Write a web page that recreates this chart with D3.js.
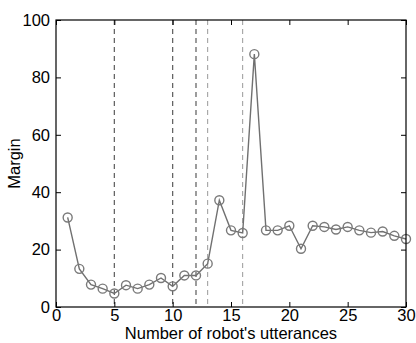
<!DOCTYPE html>
<html>
<head>
<meta charset="utf-8">
<script src="https://cdn.jsdelivr.net/npm/d3@7"></script>
<style>
  body { margin: 0; background: #fff; }
  text { font-family: "Liberation Sans", Arial, sans-serif; }
</style>
</head>
<body>
<div id="chart"></div>
<script>
var utterances = d3.range(1, 31);
var margins = [31.2, 13.3, 7.8, 6.4, 4.7, 7.6, 6.4, 7.8, 10.1, 7.2,
               11.0, 11.0, 15.1, 37.2, 26.7, 25.8, 88.1, 26.7, 26.7, 28.3,
               20.3, 28.3, 27.9, 27.0, 27.9, 26.7, 25.9, 26.3, 24.8, 23.7];
var darkLines = [5, 10, 12];
var lightLines = [13, 16];
var xTicks = [0, 5, 10, 15, 20, 25, 30];
var yTicks = [0, 20, 40, 60, 80, 100];

var width = 416, height = 343;
var pLeft = 56, pRight = 406, pTop = 20, pBottom = 307;

var svg = d3.select('#chart').append('svg')
  .attr('width', width)
  .attr('height', height);

var x = d3.scaleLinear().domain([0, 30]).range([pLeft, pRight]);
var y = d3.scaleLinear().domain([0, 100]).range([pBottom, pTop]);

// vertical dashed lines
svg.selectAll('.vdark')
  .data(darkLines)
  .enter().append('line')
  .attr('x1', d => x(d)).attr('x2', d => x(d))
  .attr('y1', pTop).attr('y2', pBottom)
  .attr('stroke', '#5a5a5a')
  .attr('stroke-width', 1.2)
  .attr('stroke-dasharray', '5,4');

svg.selectAll('.vlight')
  .data(lightLines)
  .enter().append('line')
  .attr('x1', d => x(d)).attr('x2', d => x(d))
  .attr('y1', pTop).attr('y2', pBottom)
  .attr('stroke', '#999')
  .attr('stroke-width', 1)
  .attr('stroke-dasharray', '5,4');

// series line
var line = d3.line()
  .x((d, i) => x(utterances[i]))
  .y(d => y(d));

svg.append('path')
  .datum(margins)
  .attr('d', line)
  .attr('fill', 'none')
  .attr('stroke', '#707070')
  .attr('stroke-width', 1.4);

svg.selectAll('.pt')
  .data(margins)
  .enter().append('circle')
  .attr('cx', (d, i) => x(utterances[i]))
  .attr('cy', d => y(d))
  .attr('r', 4.5)
  .attr('fill', 'none')
  .attr('stroke', '#7a7a7a')
  .attr('stroke-width', 1.4);

// axes, ticks inward on all sides
var tl = 5;
svg.append('g')
  .attr('transform', 'translate(0,' + pBottom + ')')
  .call(d3.axisBottom(x).tickValues(xTicks).tickSizeInner(-tl).tickSizeOuter(0).tickPadding(2))
  .call(g => g.select('.domain').remove())
  .selectAll('text').attr('font-size', '16.5px').attr('fill', '#000');

svg.append('g')
  .attr('transform', 'translate(' + pLeft + ',0)')
  .call(d3.axisLeft(y).tickValues(yTicks).tickSizeInner(-tl).tickSizeOuter(0).tickPadding(6))
  .call(g => g.select('.domain').remove())
  .selectAll('text').attr('font-size', '16.5px').attr('fill', '#000');

svg.append('g')
  .attr('transform', 'translate(0,' + pTop + ')')
  .call(d3.axisTop(x).tickValues(xTicks).tickSizeInner(-tl).tickSizeOuter(0).tickFormat(''))
  .call(g => g.select('.domain').remove());

svg.append('g')
  .attr('transform', 'translate(' + pRight + ',0)')
  .call(d3.axisRight(y).tickValues(yTicks).tickSizeInner(-tl).tickSizeOuter(0).tickFormat(''))
  .call(g => g.select('.domain').remove());

svg.append('rect')
  .attr('x', pLeft).attr('y', pTop)
  .attr('width', pRight - pLeft).attr('height', pBottom - pTop)
  .attr('fill', 'none')
  .attr('stroke', '#000')
  .attr('stroke-width', 1.2);

svg.append('text')
  .attr('x', (pLeft + pRight) / 2)
  .attr('y', 339)
  .attr('text-anchor', 'middle')
  .attr('font-size', '16.5px')
  .text("Number of robot's utterances");

svg.append('text')
  .attr('transform', 'translate(20,' + ((pTop + pBottom) / 2) + ') rotate(-90)')
  .attr('text-anchor', 'middle')
  .attr('font-size', '16.5px')
  .text('Margin');
</script>
</body>
</html>
